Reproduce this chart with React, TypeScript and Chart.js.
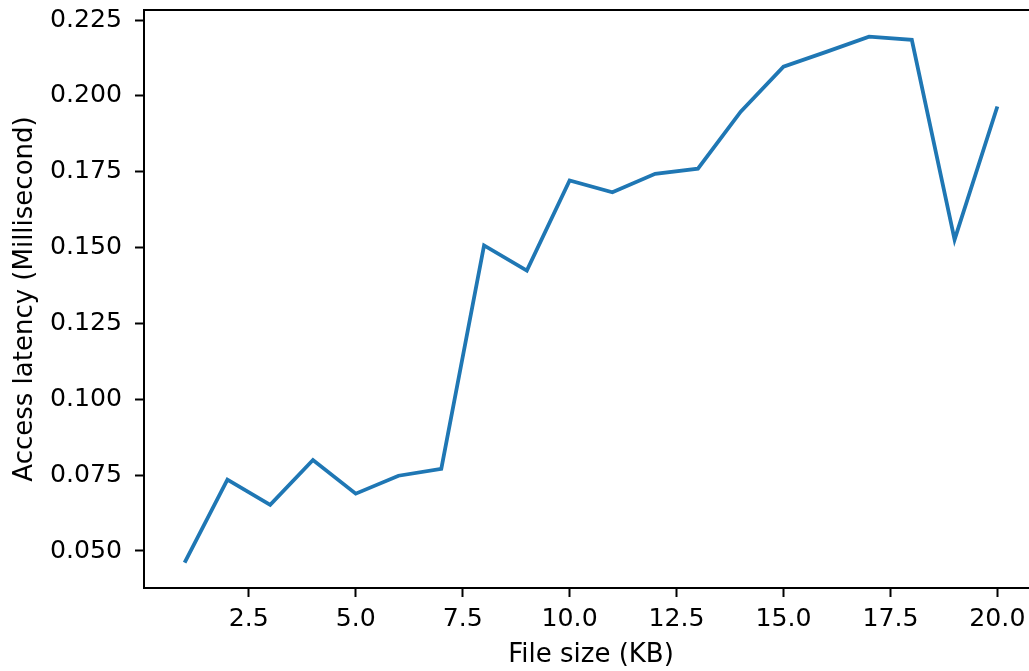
import React, { useEffect, useRef } from "react";
import { Chart, registerables } from "chart.js";

Chart.register(...registerables);

// File sizes in KB
const fileSizes = [1, 2, 3, 4, 5, 6, 7, 8, 9, 10, 11, 12, 13, 14, 15, 16, 17, 18, 19, 20];
// Access latency in milliseconds
const latencies = [
  0.0462, 0.0735, 0.0652, 0.08, 0.0689, 0.0748, 0.0771, 0.1507, 0.1424, 0.1721,
  0.1682, 0.1743, 0.176, 0.1948, 0.2096, 0.2145, 0.2195, 0.2185, 0.1526, 0.1965,
];
const xTickValues = [2.5, 5, 7.5, 10, 12.5, 15, 17.5, 20];
const yTickValues = [0.05, 0.075, 0.1, 0.125, 0.15, 0.175, 0.2, 0.225];

const X_MIN = 0.05;
const X_MAX = 20.95;
const Y_MIN = 0.0378;
const Y_MAX = 0.2283;

const FONT = "'DejaVu Sans', sans-serif";
const TICK_SIZE = 25.2;
const TITLE_SIZE = 26;

export default function App() {
  const canvasRef = useRef<HTMLCanvasElement | null>(null);

  useEffect(() => {
    const canvas = canvasRef.current;
    if (!canvas) return;
    const chart = new Chart(canvas, {
      type: "line",
      data: {
        datasets: [
          {
            data: fileSizes.map((x, i) => ({ x, y: latencies[i] })),
            borderColor: "#1f77b4",
            borderWidth: 3.8,
            borderJoinStyle: "miter",
            borderCapStyle: "butt",
            pointRadius: 0,
            fill: false,
            tension: 0,
          },
        ],
      },
      options: {
        animation: false,
        responsive: false,
        maintainAspectRatio: false,
        devicePixelRatio: 1,
        layout: { padding: { left: 0, top: 10, right: 7, bottom: 0 } },
        plugins: { legend: { display: false }, tooltip: { enabled: false } },
        scales: {
          x: {
            type: "linear",
            min: X_MIN,
            max: X_MAX,
            afterBuildTicks: (scale: any) => {
              scale.ticks = xTickValues.map((v) => ({ value: v }));
            },
            afterFit: (scale: any) => {
              scale.height = 83;
              scale.paddingLeft = 0;
              scale.paddingRight = 0;
            },
            grid: {
              drawOnChartArea: false,
              drawTicks: true,
              tickLength: 9,
              tickWidth: 2,
              tickColor: "#000",
            },
            border: { display: true, color: "#000", width: 2 },
            ticks: {
              color: "#000",
              padding: 7,
              maxRotation: 0,
              autoSkip: false,
              font: { family: FONT, size: TICK_SIZE },
              callback: (v: any) => Number(v).toFixed(1),
            },
            title: {
              display: true,
              text: "File size (KB)",
              color: "#000",
              font: { family: FONT, size: TITLE_SIZE },
              padding: { top: 0, bottom: 0 },
            },
          },
          y: {
            type: "linear",
            min: Y_MIN,
            max: Y_MAX,
            afterBuildTicks: (scale: any) => {
              scale.ticks = yTickValues.map((v) => ({ value: v }));
            },
            afterFit: (scale: any) => {
              scale.width = 144;
              scale.paddingTop = 0;
              scale.paddingBottom = 0;
            },
            grid: {
              drawOnChartArea: false,
              drawTicks: true,
              tickLength: 9,
              tickWidth: 2,
              tickColor: "#000",
            },
            border: { display: true, color: "#000", width: 2 },
            ticks: {
              color: "#000",
              padding: 13,
              autoSkip: false,
              font: { family: FONT, size: TICK_SIZE },
              callback: (v: any) => Number(v).toFixed(3),
            },
            title: {
              display: true,
              text: "Access latency (Millisecond)",
              color: "#000",
              font: { family: FONT, size: TITLE_SIZE },
              padding: { top: 10, bottom: 0 },
            },
          },
        },
      },
      plugins: [
        {
          id: "topSpine",
          afterDraw: (c: any) => {
            const { ctx, chartArea } = c;
            ctx.save();
            ctx.strokeStyle = "#000";
            ctx.lineWidth = 2;
            ctx.beginPath();
            ctx.moveTo(chartArea.left - 1, chartArea.top);
            ctx.lineTo(chartArea.right, chartArea.top);
            ctx.stroke();
            ctx.restore();
          },
        },
      ],
    } as any);
    return () => chart.destroy();
  }, []);

  return (
    <div
      style={{
        position: "fixed",
        left: 0,
        top: 0,
        width: 1029,
        height: 671,
        overflow: "hidden",
        background: "#fff",
      }}
    >
      <canvas ref={canvasRef} width={1045} height={671} style={{ width: 1045, height: 671, display: "block" }} />
    </div>
  );
}
